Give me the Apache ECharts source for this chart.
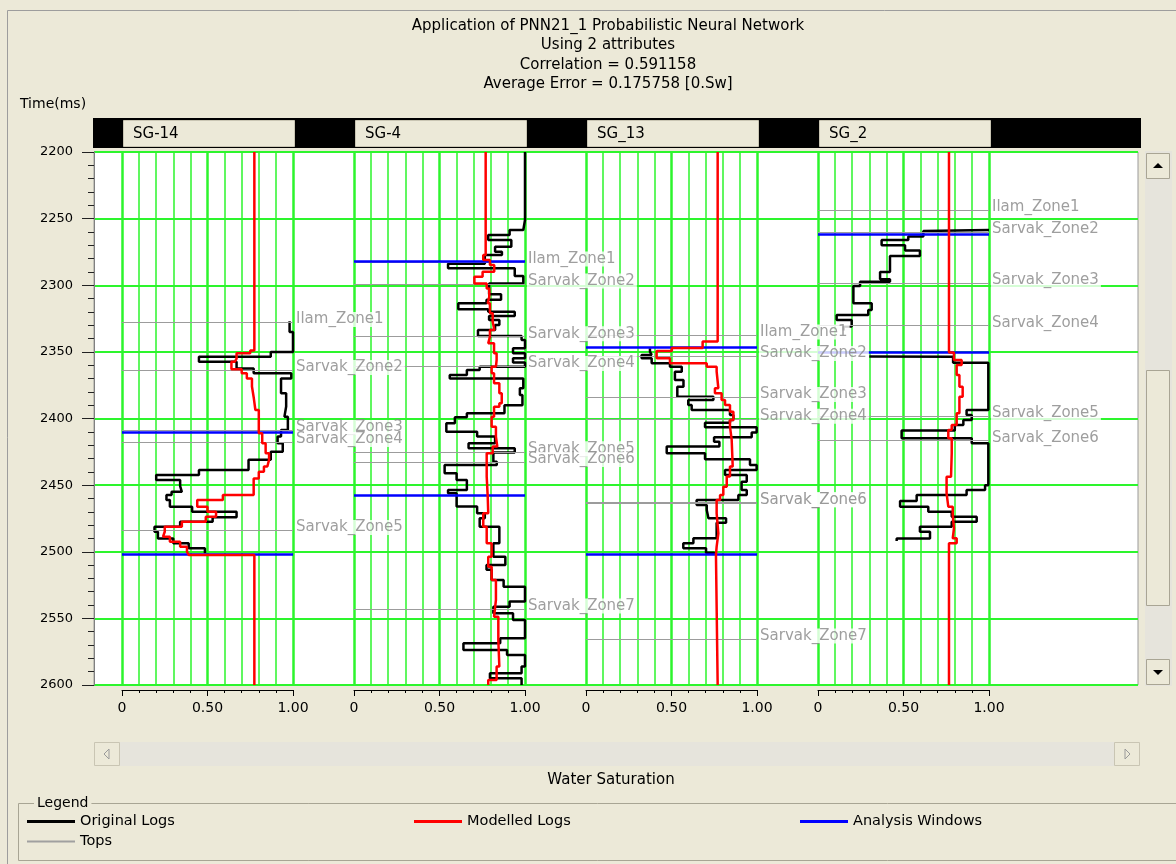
<!DOCTYPE html>
<html>
<head>
<meta charset="utf-8">
<title>Application of PNN21_1 Probabilistic Neural Network</title>
<script src="https://cdn.jsdelivr.net/npm/echarts/dist/echarts.min.js"></script>
<style>
html,body{margin:0;padding:0;background:#ece9d8;}
#chart{width:1176px;height:864px;}
</style>
</head>
<body>
<div id="chart"></div>
<script>
"use strict";

// 井名
var wellNames = ['SG-14', 'SG-4', 'SG_13', 'SG_2'];

// SG-14 : 原始曲线 (时间边界 / 台阶值)
var sg14OrigT = [2327, 2335, 2350, 2353.6, 2357.4, 2362.4, 2366, 2370, 2381, 2391, 2398.6, 2408.6, 2413.6, 2418.6, 2424.9, 2431, 2438.6, 2442.4, 2446.2, 2450.7, 2455, 2457.4, 2461.2, 2466.2, 2470, 2474.2, 2477.4, 2481.2, 2485, 2490, 2493.7, 2497.4, 2501.2];
var sg14OrigV = [0.98, 1.0, 0.87, 0.45, 0.67, 0.77, 0.99, 0.93, 0.96, 0.95, 0.97, 0.93, 0.91, 0.94, 0.87, 0.74, 0.45, 0.20, 0.34, 0.35, 0.29, 0.26, 0.28, 0.41, 0.67, 0.53, 0.34, 0.19, 0.21, 0.30, 0.39, 0.485];
var sg14ModT = [2200, 2349, 2351, 2355, 2357.4, 2363, 2366, 2370, 2376, 2384, 2393.6, 2411, 2418.6, 2426, 2431, 2436, 2440, 2445, 2457.4, 2461.2, 2466.2, 2470, 2473.7, 2477.4, 2481.2, 2485, 2488.7, 2492.5, 2496.2, 2500, 2502.4, 2600];
var sg14ModV = [0.774, 0.75, 0.67, 0.66, 0.64, 0.70, 0.73, 0.76, 0.77, 0.78, 0.80, 0.82, 0.84, 0.86, 0.85, 0.83, 0.80, 0.77, 0.59, 0.44, 0.50, 0.55, 0.49, 0.35, 0.25, 0.24, 0.28, 0.34, 0.38, 0.39, 0.774];
var sg14Win = [2410.4, 2502.2];
var sg14TopNames = ['Ilam_Zone1', 'Sarvak_Zone2', 'Sarvak_Zone3', 'Sarvak_Zone4', 'Sarvak_Zone5'];
var sg14TopT = [2328, 2364, 2409, 2418, 2484];

// SG-4
var sg4OrigT = [2200, 2251, 2258.5, 2262.3, 2266, 2271.1, 2274.8, 2277.3, 2283.8, 2287.3, 2293, 2298.6, 2306.8, 2310.8, 2313.6, 2318, 2319.8, 2323, 2326, 2329.8, 2333.6, 2338, 2341, 2347.3, 2351, 2354.8, 2358, 2361.1, 2363.6, 2367.4, 2369.9, 2377.3, 2382.4, 2390, 2396, 2399, 2403.6, 2409.9, 2413.6, 2418.6, 2422.4, 2425.6, 2432.4, 2434.9, 2441.1, 2446.1, 2453.6, 2456.1, 2466.1, 2471.1, 2474.9, 2481.2, 2493.6, 2503.7, 2510, 2513.6, 2521.2, 2526.2, 2537.4, 2541.2, 2546.2, 2551.2, 2565, 2568.7, 2573.7, 2577.4, 2586.2, 2591.2, 2595, 2600];
var sg4OrigV = [1.0, 0.99, 0.91, 0.785, 0.92, 0.825, 0.865, 0.765, 0.55, 0.94, 0.99, 0.79, 0.86, 0.775, 0.61, 0.785, 0.94, 0.79, 0.85, 0.825, 0.725, 0.98, 1.0, 0.93, 1.0, 0.93, 1.0, 0.735, 0.66, 0.56, 0.99, 0.97, 0.985, 0.88, 0.66, 0.59, 0.54, 0.72, 0.825, 0.67, 0.94, 0.815, 0.835, 0.53, 0.60, 0.66, 0.55, 0.60, 0.72, 0.765, 0.735, 0.85, 0.815, 0.885, 0.775, 0.805, 0.875, 1.0, 0.91, 0.815, 0.93, 1.0, 0.855, 0.64, 0.895, 1.0, 0.98, 0.795, 0.98];
var sg4ModT = [2200, 2277.3, 2281.1, 2284.8, 2289.8, 2293.6, 2298.6, 2302.4, 2308.6, 2313.6, 2321.1, 2327.3, 2333.6, 2338.6, 2343.6, 2351.1, 2356.1, 2361.1, 2366.1, 2373.6, 2381.1, 2388.6, 2391.1, 2398.6, 2406.1, 2413.6, 2421.1, 2426.1, 2443.6, 2458.6, 2471.1, 2481.2, 2493.6, 2503.7, 2511.2, 2521.2, 2536.2, 2548.7, 2566.2, 2586.2, 2596.2, 2600];
var sg4ModV = [0.77, 0.756, 0.795, 0.82, 0.752, 0.704, 0.776, 0.791, 0.782, 0.795, 0.811, 0.821, 0.795, 0.785, 0.819, 0.834, 0.83, 0.805, 0.819, 0.85, 0.864, 0.85, 0.819, 0.805, 0.83, 0.838, 0.811, 0.776, 0.782, 0.785, 0.756, 0.776, 0.805, 0.785, 0.805, 0.83, 0.819, 0.844, 0.85, 0.834, 0.785];
var sg4Win = [2281.8, 2457.9];
var sg4TopNames = ['Ilam_Zone1', 'Sarvak_Zone2', 'Sarvak_Zone3', 'Sarvak_Zone4', 'Sarvak_Zone5', 'Sarvak_Zone6', 'Sarvak_Zone7'];
var sg4TopT = [2282.5, 2299, 2338.6, 2361, 2425, 2433, 2543];

// SG_13
var sg13OrigT = [2347.3, 2349.8, 2352.3, 2354.8, 2358.6, 2361.1, 2364.9, 2371.1, 2376.1, 2383.6, 2386.1, 2389.9, 2393.6, 2397.4, 2401.1, 2403.1, 2406.6, 2410.6, 2414.1, 2417.4, 2421.1, 2426.1, 2430.6, 2434.9, 2438.7, 2442.4, 2447.4, 2453.7, 2457.4, 2461.2, 2464.9, 2468.7, 2474.9, 2478.2, 2489.9, 2493.7, 2497.4, 2500.7, 2502];
var sg13OrigV = [0.374, 0.384, 0.325, 0.384, 0.491, 0.56, 0.52, 0.57, 0.534, 0.745, 0.598, 0.618, 0.842, 0.862, 0.842, 0.696, 0.998, 0.969, 0.749, 0.78, 0.472, 0.696, 0.959, 0.998, 0.813, 0.94, 0.91, 0.94, 0.891, 0.647, 0.706, 0.716, 0.819, 0.764, 0.628, 0.569, 0.702, 0.75];
var sg13ModT = [2200, 2342.3, 2347, 2349.3, 2354.8, 2358.6, 2361.1, 2364.9, 2377.3, 2381.1, 2386.1, 2389.9, 2394.9, 2401.1, 2406.1, 2416.1, 2436.1, 2443.6, 2451.2, 2457.4, 2461.2, 2471.2, 2486.2, 2496.2, 2502.4, 2600];
var sg13ModV = [0.77, 0.682, 0.502, 0.413, 0.491, 0.706, 0.764, 0.774, 0.754, 0.793, 0.813, 0.842, 0.862, 0.842, 0.852, 0.858, 0.842, 0.823, 0.803, 0.784, 0.764, 0.774, 0.764, 0.76, 0.77];
var sg13Win = [2346.9, 2501.9];
var sg13TopNames = ['Ilam_Zone1', 'Sarvak_Zone2', 'Sarvak_Zone3', 'Sarvak_Zone4', 'Sarvak_Zone5', 'Sarvak_Zone6', 'Sarvak_Zone7'];
var sg13TopT = [2337.3, 2353.5, 2384.2, 2400.6, 2463.2, 2463.3, 2565.5];

// SG_2 (null = 无数据段)
var sg2OrigT = [2258.5, 2259.2, 2263.5, 2266, 2270, 2274, 2278, 2290, 2295.5, 2297.3, 2300.5, 2313.6, 2318.6, 2322.3, 2326, 2331, 2334, 2353.4, 2353.7, 2358.1, 2393.6, 2397.4, 2401.1, 2404.9, 2409, 2414.9, 2418.6, 2450, 2453.7, 2457.4, 2462, 2466.2, 2470, 2473.7, 2477.4, 2481.2, 2485, 2490, 2492];
var sg2OrigV = [1.0, 0.616, 0.528, 0.372, 0.509, 0.596, 0.421, 0.363, 0.421, 0.246, 0.207, 0.314, 0.294, 0.109, 0.197, 0.15, null, 0.3, 0.79, 0.996, 0.869, 0.899, 0.85, 0.80, 0.489, 0.899, 0.996, 0.977, 0.869, 0.577, 0.48, 0.645, 0.782, 0.928, 0.782, 0.596, 0.655, 0.46];
var sg2ModT = [2200, 2350.5, 2356.1, 2359.9, 2367.4, 2376.1, 2383.6, 2396.1, 2404.9, 2408.6, 2414.9, 2426.1, 2443.7, 2456.2, 2466.2, 2472.4, 2482.4, 2489.9, 2493.7, 2600];
var sg2ModV = [0.766, 0.795, 0.84, 0.811, 0.827, 0.846, 0.827, 0.811, 0.782, 0.762, 0.782, 0.778, 0.752, 0.762, 0.788, 0.795, 0.788, 0.811, 0.766];
var sg2Win = [2261.8, 2350.3];
var sg2TopNames = ['Ilam_Zone1', 'Sarvak_Zone2', 'Sarvak_Zone3', 'Sarvak_Zone4', 'Sarvak_Zone5', 'Sarvak_Zone6'];
var sg2TopT = [2243.5, 2260.3, 2298.6, 2330.3, 2398.1, 2416.6];

var titleLines = ['Application of PNN21_1 Probabilistic Neural Network', 'Using 2 attributes', 'Correlation = 0.591158', 'Average Error = 0.175758 [0.Sw]'];

var wells = [
    {origT: sg14OrigT, origV: sg14OrigV, modT: sg14ModT, modV: sg14ModV, win: sg14Win, topN: sg14TopNames, topT: sg14TopT},
    {origT: sg4OrigT, origV: sg4OrigV, modT: sg4ModT, modV: sg4ModV, win: sg4Win, topN: sg4TopNames, topT: sg4TopT},
    {origT: sg13OrigT, origV: sg13OrigV, modT: sg13ModT, modV: sg13ModV, win: sg13Win, topN: sg13TopNames, topT: sg13TopT},
    {origT: sg2OrigT, origV: sg2OrigV, modT: sg2ModT, modV: sg2ModV, win: sg2Win, topN: sg2TopNames, topT: sg2TopT}
];

var FONT = 'DejaVu Sans';
var GREEN = '#2df52d';
var BG = '#ece9d8';
var TRACK_LEFT = 122, TRACK_STEP = 232, TRACK_W = 171;
var PLOT_TOP = 152, PLOT_H = 533;

// 台阶曲线 -> 折线点
function stepPoints(T, V) {
    var pts = [];
    for (var i = 0; i < V.length; i++) {
        if (V[i] === null) { pts.push(['-', '-']); continue; }
        pts.push([V[i], T[i]]);
        pts.push([V[i], T[i + 1]]);
    }
    return pts;
}

var grids = [{
    left: 94, top: PLOT_TOP, width: 1044, height: PLOT_H,
    show: true, backgroundColor: '#fff', borderColor: '#9a9a9a', borderWidth: 1,
    containLabel: false, outerBoundsMode: 'none'
}];
var xAxes = [{gridIndex: 0, type: 'value', min: 0, max: 1, show: false}];
var yAxes = [{
    gridIndex: 0, type: 'value', min: 2200, max: 2600, interval: 50, inverse: true,
    axisLine: {show: true, lineStyle: {color: '#808080', width: 1}},
    axisTick: {show: true, inside: false, length: 12, lineStyle: {color: '#222'}},
    minorTick: {show: true, splitNumber: 5, length: 6, lineStyle: {color: '#222'}},
    axisLabel: {
        show: true, margin: 21, color: '#000', fontFamily: FONT, fontSize: 13,
        formatter: function (v) { return String(v); }
    },
    splitLine: {show: true, lineStyle: {color: GREEN, width: 2}},
    minorSplitLine: {show: false}
}];
var series = [];

wells.forEach(function (w, i) {
    var ax = i + 1;
    grids.push({
        left: TRACK_LEFT + TRACK_STEP * i, top: PLOT_TOP, width: TRACK_W, height: PLOT_H,
        show: false, containLabel: false, outerBoundsMode: 'none'
    });
    xAxes.push({
        gridIndex: ax, type: 'value', min: 0, max: 1, interval: 0.5, position: 'bottom', offset: 5,
        axisLine: {show: true, onZero: false, lineStyle: {color: '#000', width: 1}},
        axisTick: {show: true, inside: false, length: 6, lineStyle: {color: '#000'}},
        minorTick: {show: true, splitNumber: 5, length: 3, lineStyle: {color: '#000'}},
        axisLabel: {
            show: true, margin: 11, color: '#000', fontFamily: FONT, fontSize: 14,
            formatter: function (v) { return v === 0 ? '0' : v.toFixed(2); }
        },
        splitLine: {show: true, lineStyle: {color: GREEN, width: 2.5}},
        minorSplitLine: {show: true, lineStyle: {color: GREEN, width: 1.5}}
    });
    yAxes.push({gridIndex: ax, type: 'value', min: 2200, max: 2600, inverse: true, show: false});

    // 层位线
    series.push({
        name: 'Tops', type: 'line', xAxisIndex: ax, yAxisIndex: ax, data: [], color: '#a0a0a0', z: 2,
        markLine: {
            silent: true, symbol: ['none', 'none'], animation: false,
            label: {show: false}, emphasis: {disabled: true},
            lineStyle: {color: '#9c9c9c', width: 1.2, type: 'solid'},
            data: w.topT.map(function (t) { return [{coord: [0, t]}, {coord: [1, t]}]; })
        }
    });
    // 分析时窗
    series.push({
        name: 'Analysis Windows', type: 'line', xAxisIndex: ax, yAxisIndex: ax, data: [], color: '#0000ff', z: 3,
        markLine: {
            silent: true, symbol: ['none', 'none'], animation: false,
            label: {show: false}, emphasis: {disabled: true},
            lineStyle: {color: '#0000ff', width: 2.5, type: 'solid'},
            data: w.win.map(function (t) { return [{coord: [0, t]}, {coord: [1, t]}]; })
        }
    });
    series.push({
        name: 'Original Logs', type: 'line', xAxisIndex: ax, yAxisIndex: ax, z: 4,
        data: stepPoints(w.origT, w.origV), color: '#000',
        showSymbol: false, symbol: 'none', connectNulls: false, silent: true,
        lineStyle: {color: '#000', width: 2.5}
    });
    series.push({
        name: 'Modelled Logs', type: 'line', xAxisIndex: ax, yAxisIndex: ax, z: 5,
        data: stepPoints(w.modT, w.modV), color: '#ff0000',
        showSymbol: false, symbol: 'none', silent: true,
        lineStyle: {color: '#ff0000', width: 2.5}
    });
    // 层位名称
    series.push({
        name: 'topLabels', type: 'scatter', xAxisIndex: ax, yAxisIndex: ax, z: 10, clip: false, silent: true,
        symbolSize: 0, itemStyle: {color: 'rgba(0,0,0,0)'},
        data: w.topT.map(function (t, k) { return {name: w.topN[k], value: [1, t]}; }),
        label: {
            show: true, position: 'right', distance: 2, offset: [0, -3], formatter: '{b}',
            color: '#868686', fontFamily: FONT, fontSize: 15,
            backgroundColor: '#fff', padding: [0, 2, 0, 1]
        }
    });
});

function mkLegend(name, left, top, h) {
    return {
        data: [name], left: left, top: top, padding: 0, icon: 'rect',
        itemWidth: 48, itemHeight: h, selectedMode: false, orient: 'horizontal',
        textStyle: {fontFamily: FONT, fontSize: 14.5, color: '#000'}
    };
}

function txt(text, x, y, size, align) {
    return {
        type: 'text', x: x, y: y, z: 50, silent: true,
        style: {text: text, fill: '#000', font: size + 'px "' + FONT + '"', textAlign: align || 'left', textVerticalAlign: 'middle'}
    };
}

var graphics = [
    // 外框
    {type: 'rect', z: 1, silent: true, shape: {x: 7.5, y: 10.5, width: 1180, height: 870}, style: {fill: 'none', stroke: '#9d9d9d', lineWidth: 1}},
    // 井名表头
    {type: 'rect', z: 5, silent: true, shape: {x: 93, y: 118, width: 1048, height: 30}, style: {fill: '#000'}}
];
wellNames.forEach(function (n, i) {
    var x0 = TRACK_LEFT + TRACK_STEP * i + 1;
    graphics.push({type: 'rect', z: 6, silent: true, shape: {x: x0 + 0.5, y: 120.5, width: 171, height: 26}, style: {fill: BG, stroke: '#c9c5b3', lineWidth: 1}});
    graphics.push(txt(n, x0 + 10, 134, 15));
});
titleLines.forEach(function (s, i) {
    graphics.push(txt(s, 608, 26 + i * 19.5, 15, 'center'));
});
graphics.push(txt('Time(ms)', 20, 104, 14));
graphics.push(txt('Water Saturation', 611, 780, 15, 'center'));

// 右侧滚动条
graphics.push(
    {type: 'rect', z: 5, silent: true, shape: {x: 1145, y: 151, width: 27, height: 535}, style: {fill: '#e6e4dc'}},
    {type: 'rect', z: 6, silent: true, shape: {x: 1146.5, y: 153.5, width: 23, height: 25}, style: {fill: BG, stroke: '#a9a594', lineWidth: 1}},
    {type: 'polygon', z: 7, silent: true, shape: {points: [[1153, 168], [1163, 168], [1158, 163]]}, style: {fill: '#000'}},
    {type: 'rect', z: 6, silent: true, shape: {x: 1146.5, y: 370.5, width: 23, height: 235}, style: {fill: BG, stroke: '#a9a594', lineWidth: 1}},
    {type: 'rect', z: 6, silent: true, shape: {x: 1146.5, y: 659.5, width: 23, height: 25}, style: {fill: BG, stroke: '#a9a594', lineWidth: 1}},
    {type: 'polygon', z: 7, silent: true, shape: {points: [[1153, 670], [1163, 670], [1158, 675]]}, style: {fill: '#000'}}
);
// 底部滚动条
graphics.push(
    {type: 'rect', z: 5, silent: true, shape: {x: 94, y: 742, width: 1046, height: 24}, style: {fill: '#e6e4dc'}},
    {type: 'rect', z: 6, silent: true, shape: {x: 94.5, y: 742.5, width: 25, height: 23}, style: {fill: BG, stroke: '#c9c5b3', lineWidth: 1}},
    {type: 'polygon', z: 7, silent: true, shape: {points: [[109, 749], [109, 759], [104, 754]]}, style: {fill: 'none', stroke: '#9a9a9a'}},
    {type: 'rect', z: 6, silent: true, shape: {x: 1114.5, y: 742.5, width: 25, height: 23}, style: {fill: BG, stroke: '#c9c5b3', lineWidth: 1}},
    {type: 'polygon', z: 7, silent: true, shape: {points: [[1125, 749], [1125, 759], [1130, 754]]}, style: {fill: 'none', stroke: '#9a9a9a'}}
);
// 图例框
graphics.push(
    {type: 'rect', z: 5, silent: true, shape: {x: 18.5, y: 803.5, width: 1170, height: 57}, style: {fill: 'none', stroke: '#a8a594', lineWidth: 1}},
    {
        type: 'text', x: 34, y: 803, z: 6, silent: true,
        style: {text: 'Legend', fill: '#000', font: '14px "' + FONT + '"', textVerticalAlign: 'middle', backgroundColor: BG, padding: [0, 3]}
    }
);

var myChart = echarts.init(document.getElementById('chart'), null, {renderer: 'canvas'});
var option = {
    backgroundColor: BG,
    animation: false,
    textStyle: {fontFamily: FONT},
    grid: grids,
    xAxis: xAxes,
    yAxis: yAxes,
    legend: [
        mkLegend('Original Logs', 27, 814, 3),
        mkLegend('Modelled Logs', 414, 814, 3),
        mkLegend('Analysis Windows', 800, 814, 3),
        mkLegend('Tops', 27, 834, 2)
    ],
    tooltip: {show: false},
    graphic: graphics,
    series: series
};
myChart.setOption(option);
</script>
</body>
</html>
